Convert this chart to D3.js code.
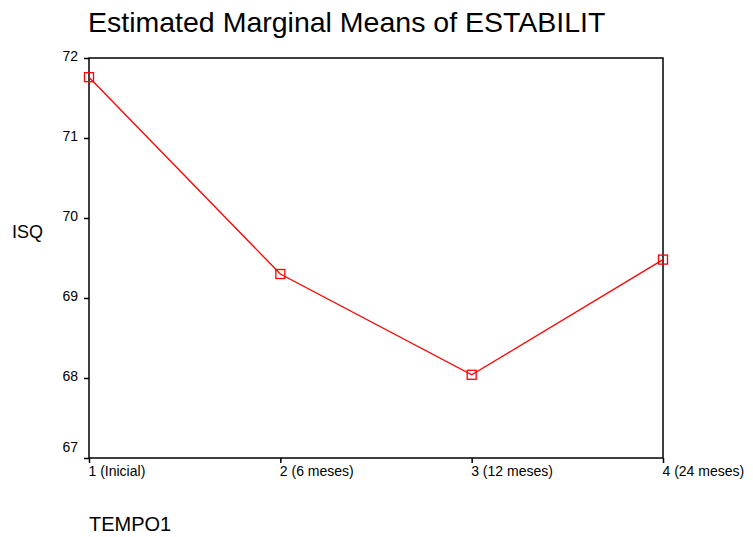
<!DOCTYPE html>
<html>
<head>
<meta charset="utf-8">
<script src="https://cdn.jsdelivr.net/npm/d3@7"></script>
<style>
  body { margin: 0; background: #fff; }
  text { font-family: Arial, "Liberation Sans", sans-serif; fill: #000; }
</style>
</head>
<body>
<svg id="chart" width="753" height="537"></svg>
<script>
const categories = ['1 (Inicial)', '2 (6 meses)', '3 (12 meses)', '4 (24 meses)']
const means = [71.76, 69.30, 68.04, 69.48]
const yTicks = [67, 68, 69, 70, 71, 72]

const svg = d3.select('#chart')
const margin = {top: 58, right: 90, bottom: 79, left: 89}
const width = 753 - margin.left - margin.right
const height = 537 - margin.top - margin.bottom

const x = d3.scalePoint().domain(categories).range([0, width]).padding(0)
const y = d3.scaleLinear().domain([67, 72]).range([height, 0])

const g = svg.append('g').attr('transform', `translate(${margin.left}, ${margin.top})`)

// frame
g.append('rect')
  .attr('x', 0).attr('y', 0)
  .attr('width', width).attr('height', height)
  .attr('fill', 'none').attr('stroke', '#000').attr('stroke-width', 1.5)

const yAxis = g.append('g')
  .call(d3.axisLeft(y).tickValues(yTicks).tickSize(5).tickPadding(6).tickFormat(d3.format('d')))
yAxis.select('.domain').remove()
yAxis.selectAll('line').attr('stroke-width', 1.5)
yAxis.selectAll('text')
  .style('font-size', '14px')
  .attr('dy', d => d === 67 ? '-0.45em' : '0.2em')

const xAxis = g.append('g')
  .attr('transform', `translate(0, ${height})`)
  .call(d3.axisBottom(x).tickSize(5).tickPadding(3))
xAxis.select('.domain').remove()
xAxis.selectAll('line').attr('stroke-width', 1.5)
xAxis.selectAll('text')
  .style('font-size', '14px')
  .attr('text-anchor', 'start')
  .attr('x', -1)

const line = d3.line()
  .x((d, i) => x(categories[i]))
  .y(d => y(d))

g.append('path')
  .datum(means)
  .attr('fill', 'none')
  .attr('stroke', '#ff0000')
  .attr('stroke-width', 1.3)
  .attr('d', line)

g.selectAll('rect.marker')
  .data(means)
  .enter()
  .append('rect')
  .attr('class', 'marker')
  .attr('x', (d, i) => x(categories[i]) - 4.5)
  .attr('y', d => y(d) - 4.5)
  .attr('width', 9)
  .attr('height', 9)
  .attr('fill', 'none')
  .attr('stroke', '#ff0000')
  .attr('stroke-width', 1.3)

svg.append('text')
  .attr('x', 88).attr('y', 32)
  .style('font-size', '28.5px')
  .text('Estimated Marginal Means of ESTABILIT')

svg.append('text')
  .attr('x', 12).attr('y', 238)
  .style('font-size', '18px')
  .text('ISQ')

svg.append('text')
  .attr('x', 89).attr('y', 531)
  .style('font-size', '20px')
  .text('TEMPO1')
</script>
</body>
</html>
